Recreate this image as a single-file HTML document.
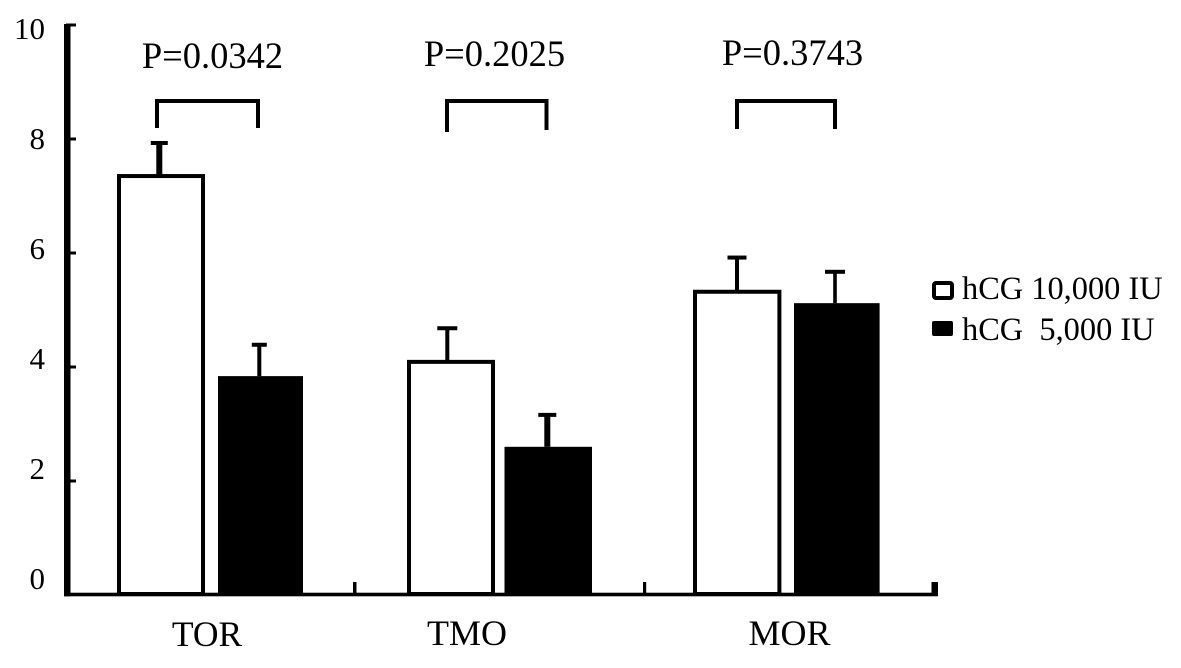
<!DOCTYPE html>
<html lang="en">
<head>
<meta charset="utf-8">
<title>hCG dose bar chart</title>
<style>
  html, body { margin: 0; padding: 0; background: #fff; }
  svg { display: block; }
  text { font-family: "Liberation Serif", serif; fill: #000; white-space: pre; }
</style>
</head>
<body>
<svg id="chart" xmlns="http://www.w3.org/2000/svg" width="1181" height="668" viewBox="0 0 1181 668">
  <rect x="0" y="0" width="1181" height="668" fill="#fff"/>
  <g>
    <rect x="934" y="283" width="18" height="15" rx="2" fill="#fff" stroke="#000" stroke-width="4"/>
    <text x="962" y="299" font-size="32.4">hCG 10,000 IU</text>
    <rect x="932" y="321" width="21" height="15" rx="2" fill="#000"/>
    <text x="962" y="340" font-size="32.4">hCG  5,000 IU</text>
  </g>
</svg>
<script>
const categories = ['TOR', 'TMO', 'MOR'];
const pValues = ['P=0.0342', 'P=0.2025', 'P=0.3743'];
const yTicks = [0, 2, 4, 6, 8, 10];
const dose10000 = [7.35, 4.09, 5.32];
const dose10000Err = [0.58, 0.59, 0.60];
const dose5000 = [3.84, 2.60, 5.12];
const dose5000Err = [0.55, 0.56, 0.55];

const svg = document.getElementById('chart');
const NS = 'http://www.w3.org/2000/svg';
const y = v => 595 - v * 57;
const labelY = v => 39 + (10 - v) * 55;

// Hand-drawn band layout of the original figure, per category index.
const whiteLeft = i => [117, 407, 693][i];
const whiteWidth = i => [88, 88, 88.4][i];
const blackLeft = i => [218, 504.5, 794][i];
const blackWidth = i => [85, 87.5, 85.6][i];
const errWhiteX = i => [159.3, 447.3, 737][i];
const errBlackX = i => [259.3, 547.3, 835][i];
const bracketLeft = i => [157, 447, 737][i];
const bracketRight = i => [258, 546.5, 835][i];
const bracketEndL = i => [128, 132, 129][i];
const bracketEndR = i => [128, 130, 129][i];
const stemWhite = i => [6, 4, 4][i];
const stemBlack = i => [4, 6, 3.6][i];
const capWhite = i => [8.5, 10, 9.5][i];
const capBlack = i => [7.5, 9, 10][i];
const pX = i => [212.5, 494.5, 792.5][i];
const pY = i => [68, 66, 65][i];
const labelX = i => [207, 467, 789.5][i];
const labelBase = i => [646, 645, 645][i];
const labelSize = i => [35.5, 36, 36][i];
const tickX = i => [353, 643, 931.5][i];
const tickW = i => [3.5, 3.2, 6.5][i];

function add(tag, props, text) {
  const el = document.createElementNS(NS, tag);
  for (const k in props) el.setAttribute(k, props[k]);
  if (text !== undefined) el.textContent = text;
  svg.appendChild(el);
  return el;
}

function drawError(i, cx, value, err, series, stemW, capHalf) {
  const stem = add('rect', { x: cx - stemW / 2, y: y(value + err), width: stemW, height: y(value) - y(value + err), fill: '#000' });
  
  
  const cap = add('rect', { x: cx - capHalf, y: y(value + err) - 2, width: capHalf * 2, height: 4, fill: '#000' });
  
  
}

categories.forEach((cat, i) => {
  const name = cat.toLowerCase();

  drawError(i, errWhiteX(i), dose10000[i], dose10000Err[i], '10000', stemWhite(i), capWhite(i));
  drawError(i, errBlackX(i), dose5000[i], dose5000Err[i], '5000', stemBlack(i), capBlack(i));

  const white = add('rect', { x: whiteLeft(i) + 2, y: y(dose10000[i]), width: whiteWidth(i) - 4, height: y(0) - y(dose10000[i]) - 1, fill: '#fff', stroke: '#000', 'stroke-width': 4 });
  
  

  const black = add('rect', { x: blackLeft(i), y: y(dose5000[i]), width: blackWidth(i), height: y(0) - y(dose5000[i]), fill: '#000' });
  
  

  const bracket = add('path', { d: 'M' + bracketLeft(i) + ' ' + bracketEndL(i) + 'V101H' + bracketRight(i) + 'V' + bracketEndR(i), fill: 'none', stroke: '#000', 'stroke-width': 4 });
  
  

  const p = add('text', { x: pX(i), y: pY(i), 'font-size': 36.5, 'text-anchor': 'middle' }, pValues[i]);
  
  

  const label = add('text', { x: labelX(i), y: labelBase(i), 'font-size': labelSize(i), 'text-anchor': 'middle' }, cat);
  
  
});

const yAxis = add('rect', { x: 64, y: y(10) - 1, width: 6.5, height: y(0) - y(10) + 2.3, fill: '#000' });



const xAxis = add('rect', { x: 64, y: 592.7, width: 874, height: 3.6, fill: '#000' });



yTicks.forEach(v => {
  if (v > 0) {
    const tick = add('rect', { x: 66, y: y(v) - 1.5, width: 10, height: 3, fill: '#000' });
    
    
  }
  const label = add('text', { x: 45, y: labelY(v), 'font-size': 31, 'text-anchor': 'end' }, String(v));
  
  
});

categories.forEach((cat, i) => {
  const tick = add('rect', { x: tickX(i), y: 582, width: tickW(i), height: 12, fill: '#000' });
  
  
});
</script>
</body>
</html>
